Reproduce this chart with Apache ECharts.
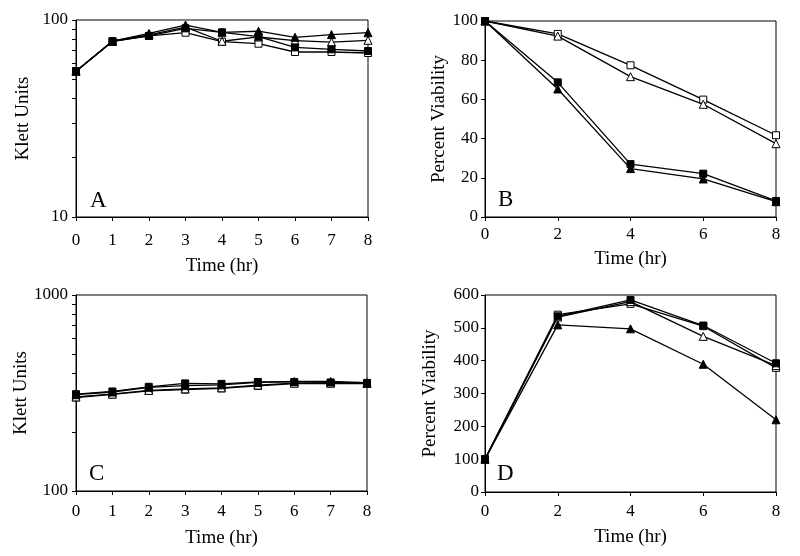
<!DOCTYPE html>
<html>
<head>
<meta charset="utf-8">
<script src="https://cdn.jsdelivr.net/npm/echarts@6/dist/echarts.min.js"></script>
<style>html,body{margin:0;padding:0;background:#fff}#c{width:800px;height:556px}</style>
</head>
<body>
<div id="c"></div>
<script>
// ---- data ----
const hoursAC = [0, 1, 2, 3, 4, 5, 6, 7, 8];
const hoursBD = [0, 2, 4, 6, 8];

const aFilledSquare = [55, 78, 83, 90.7, 86.6, 82.3, 72.6, 71, 69.6];
const aOpenSquare   = [55, 78, 83, 86.2, 77.6, 75.8, 68.8, 68.8, 68];
const aFilledTri    = [55, 78, 85.5, 94.3, 86.6, 87.7, 81.7, 84.3, 86.2];
const aOpenTri      = [55, 78, 84, 92, 78, 82, 78.5, 77.3, 78.9];

const bFilledSquare = [100, 68.7, 27, 22.1, 8.2];
const bOpenSquare   = [100, 93.4, 77.4, 59.9, 41.7];
const bFilledTri    = [100, 65.3, 24.7, 19.4, 7.8];
const bOpenTri      = [100, 92.3, 71.6, 57.5, 37.4];

const cFilledSquare = [312, 322, 340, 354, 352, 360, 360, 358, 356];
const cFilledTri    = [310, 320, 338, 345, 348, 358, 362, 362, 357];
const cOpenSquare   = [300, 311, 324, 329, 334, 344, 353, 353, 353];
const cOpenTri      = [302, 312, 326, 332, 336, 347, 355, 355, 354];

const dFilledSquare = [100, 535, 585, 507, 392];
const dOpenSquare   = [100, 540, 573, 505, 378];
const dFilledTri    = [100, 509, 497, 389, 220];
const dOpenTri      = [100, 533, 580, 474, 385];

const ticksA = [10, 20, 30, 40, 50, 60, 70, 80, 90, 100];
const labelsA = [10, 100];
const ticksC = [100, 200, 300, 400, 500, 600, 700, 800, 900, 1000];
const labelsC = [100, 1000];

const panelLetters = ['A', 'B', 'C', 'D'];
const xName = 'Time (hr)';
const yNameKlett = 'Klett Units';
const yNameViab = 'Percent Viability';

// ---- styling helpers ----
const FONT = '"Liberation Serif", "DejaVu Serif", serif';
const grids = [
  {left: 76, top: 20, width: 292, height: 197},
  {left: 485, top: 21, width: 291, height: 196},
  {left: 76, top: 295, width: 291, height: 196},
  {left: 485, top: 295, width: 291, height: 197}
];

function pairs(xs, ys) { return xs.map((x, i) => [x, ys[i]]); }

function series(idx, xs, ys, kind) {
  const filled = kind.startsWith('f');
  const sym = kind.endsWith('s') ? 'rect' : 'triangle';
  return {
    type: 'line', xAxisIndex: idx, yAxisIndex: idx,
    data: pairs(xs, ys),
    symbol: sym,
    symbolSize: sym === 'rect' ? 7 : 8,
    showSymbol: true,
    lineStyle: {color: '#000', width: 1.3},
    itemStyle: {color: filled ? '#000' : '#fff', borderColor: '#000', borderWidth: 1},
    z: filled ? 3 : 2,
    animation: false
  };
}

function xAxis(idx, interval, margin, gap) {
  return {
    type: 'value', gridIndex: idx, min: 0, max: 8, interval: interval,
    name: xName, nameLocation: 'middle', nameGap: gap,
    nameTextStyle: {fontFamily: FONT, fontSize: 19, color: '#000'},
    axisLine: {show: true, onZero: false, lineStyle: {color: '#000', width: 1}},
    axisTick: {show: true, inside: false, length: 4, lineStyle: {color: '#000'}},
    axisLabel: {fontFamily: FONT, fontSize: 17, color: '#000', margin: margin},
    splitLine: {show: false}
  };
}

function yAxisLin(idx, max, interval, margin, gap, name) {
  return {
    type: 'value', gridIndex: idx, min: 0, max: max, interval: interval,
    name: name, nameLocation: 'middle', nameGap: gap,
    nameTextStyle: {fontFamily: FONT, fontSize: 19, color: '#000'},
    axisLine: {show: true, lineStyle: {color: '#000', width: 1}},
    axisTick: {show: true, inside: false, length: 4, lineStyle: {color: '#000'}},
    axisLabel: {fontFamily: FONT, fontSize: 17, color: '#000', margin: margin},
    splitLine: {show: false}
  };
}

function yAxisLog(idx, min, max, ticks, labels, margin, gap, name) {
  return {
    type: 'log', logBase: 10, gridIndex: idx, min: min, max: max,
    name: name, nameLocation: 'middle', nameGap: gap,
    nameTextStyle: {fontFamily: FONT, fontSize: 19, color: '#000'},
    axisLine: {show: true, lineStyle: {color: '#000', width: 1}},
    axisTick: {show: true, inside: false, length: 4, lineStyle: {color: '#000'}, customValues: ticks},
    axisLabel: {fontFamily: FONT, fontSize: 17, color: '#000', margin: margin, customValues: labels,
      formatter: v => String(Math.round(v))},
    splitLine: {show: false}
  };
}

const letterPos = [
  {left: 90, top: 189}, {left: 498, top: 188},
  {left: 89, top: 462}, {left: 497, top: 462}
];

const option = {
  backgroundColor: '#fff',
  animation: false,
  title: panelLetters.map((t, i) => ({
    text: t, left: letterPos[i].left, top: letterPos[i].top, padding: 0,
    textStyle: {fontFamily: FONT, fontSize: 23, fontWeight: 'normal', color: '#000'}
  })),
  grid: grids.map(g => Object.assign({show: true, borderColor: '#000', borderWidth: 1, backgroundColor: 'transparent', containLabel: false}, g)),
  xAxis: [
    xAxis(0, 1, 15, 40),
    xAxis(1, 2, 9, 33),
    xAxis(2, 1, 12, 38),
    xAxis(3, 2, 11, 36)
  ],
  yAxis: [
    yAxisLog(0, 10, 100, ticksA, labelsA, 8, 43, yNameKlett),
    yAxisLin(1, 100, 20, 7, 36, yNameViab),
    yAxisLog(2, 100, 1000, ticksC, labelsC, 8, 43, yNameKlett),
    yAxisLin(3, 600, 100, 6, 45, yNameViab)
  ],
  series: [
    series(0, hoursAC, aOpenSquare, 'os'),
    series(0, hoursAC, aOpenTri, 'ot'),
    series(0, hoursAC, aFilledSquare, 'fs'),
    series(0, hoursAC, aFilledTri, 'ft'),
    series(1, hoursBD, bOpenSquare, 'os'),
    series(1, hoursBD, bOpenTri, 'ot'),
    series(1, hoursBD, bFilledSquare, 'fs'),
    series(1, hoursBD, bFilledTri, 'ft'),
    series(2, hoursAC, cOpenSquare, 'os'),
    series(2, hoursAC, cOpenTri, 'ot'),
    series(2, hoursAC, cFilledTri, 'ft'),
    series(2, hoursAC, cFilledSquare, 'fs'),
    series(3, hoursBD, dOpenSquare, 'os'),
    series(3, hoursBD, dOpenTri, 'ot'),
    series(3, hoursBD, dFilledTri, 'ft'),
    series(3, hoursBD, dFilledSquare, 'fs')
  ]
};

const chart = echarts.init(document.getElementById('c'), null, {renderer: 'canvas'});
chart.setOption(option);
</script>
</body>
</html>
